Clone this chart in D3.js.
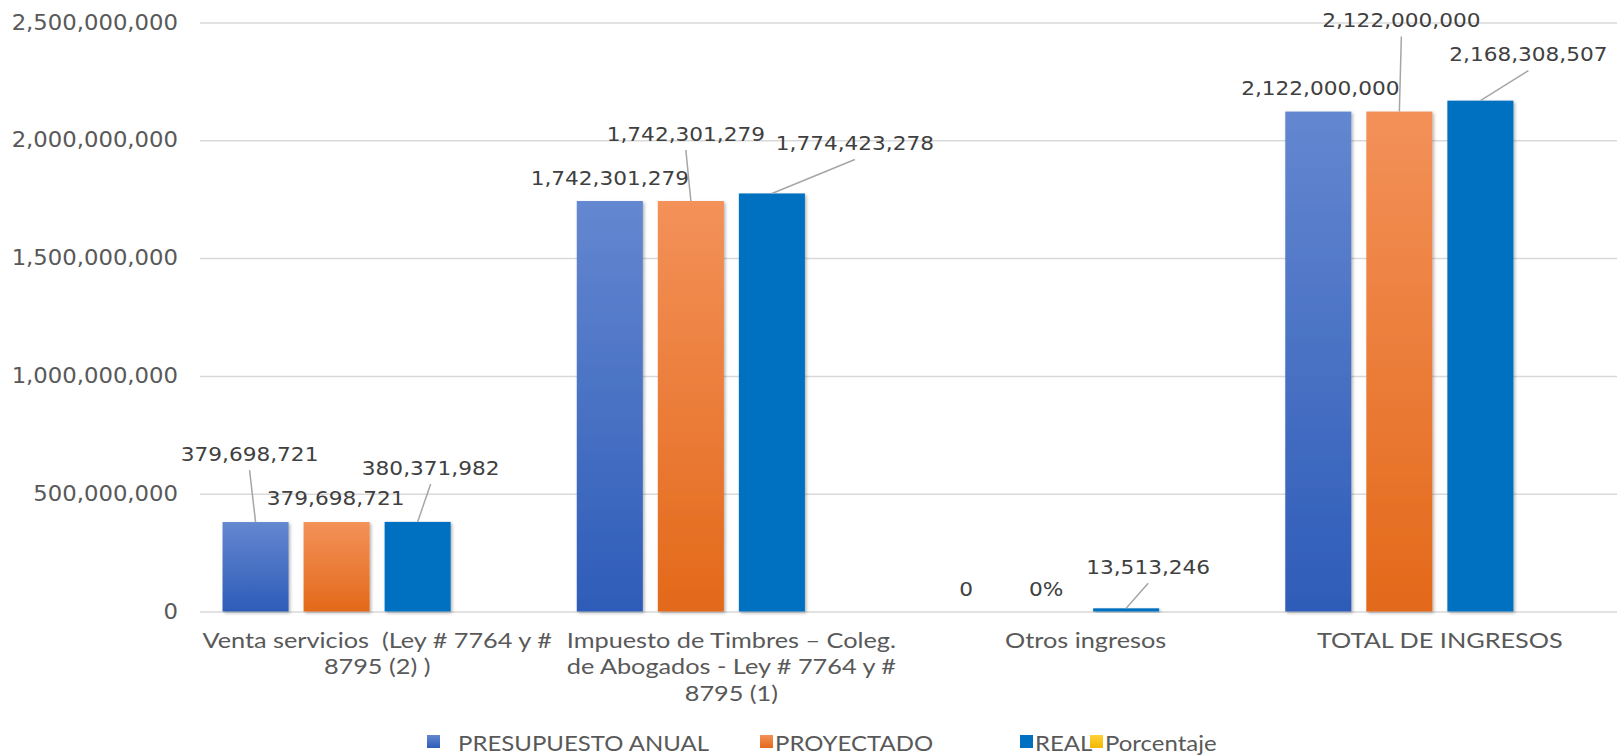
<!DOCTYPE html>
<html>
<head>
<meta charset="utf-8">
<script src="https://cdn.jsdelivr.net/npm/d3@7"></script>
<style>
  html, body { margin: 0; padding: 0; background: #fff; }
  .axis-label { font-family: "DejaVu Sans", Verdana, sans-serif; font-size: 20.5px; fill: #595959; }
  .data-label { font-family: "DejaVu Sans", Verdana, sans-serif; font-size: 19.5px; fill: #404040; }
  .cat-label { font-family: Lato, "Open Sans", sans-serif; font-size: 22px; fill: #595959; white-space: pre; }
  .legend-label { font-family: Lato, "Open Sans", sans-serif; font-size: 22px; fill: #595959; }
</style>
</head>
<body>
<div id="chart"></div>
<script>
// Chart data
const categories = ["Venta servicios", "Impuesto de Timbres", "Otros ingresos", "TOTAL DE INGRESOS"];
const categoryLines = [
  ["Venta servicios  (Ley # 7764 y #", "8795 (2) )"],
  ["Impuesto de Timbres \u2013 Coleg.", "de Abogados - Ley # 7764 y #", "8795 (1)"],
  ["Otros ingresos"],
  ["TOTAL DE INGRESOS"],
];
const seriesNames = ["PRESUPUESTO ANUAL", "PROYECTADO", "REAL", "Porcentaje"];
const presupuesto = [379698721, 1742301279, 0, 2122000000];
const proyectado = [379698721, 1742301279, 0, 2122000000];
const real = [380371982, 1774423278, 13513246, 2168308507];
const porcentaje = [1.0, 1.02, 0, 1.02]; // ratio values, too small to show on this scale
const yTicks = [0, 500000000, 1000000000, 1500000000, 2000000000, 2500000000];

// label placement: [dx, dy, leader line] relative to the top centre of the bar
const labelPos = [
  [[-6, -68, true], [-1, -24, false], [13, -54, true]],
  [[0, -23, false], [-5, -67, true], [83, -50, true]],
  [[2, -22, false], [1, -22, false], [22, -41, true]],
  [[2, -23, false], [2, -91, true], [48, -46, true]],
];
const percentLabels = [[2, 1]]; // cells shown as percent in the source

const colors = [
  ["#6487d0", "#2e5cb8"],
  ["#f39159", "#e3691a"],
  ["#0070c0", "#0070c0"],
  ["#ffd23a", "#f2b700"],
];

const W = 1621, H = 755;
const margin = { top: 22.5, right: 4, bottom: 143.5, left: 200 };
const width = W - margin.left - margin.right;
const height = H - margin.top - margin.bottom;
const SX = 1.11; // source picture is stretched a bit horizontally

const svg = d3.select("#chart").append("svg").attr("width", W).attr("height", H);
const defs = svg.append("defs");

colors.forEach((c, i) => {
  const g = defs.append("linearGradient").attr("id", "grad" + i)
    .attr("x1", 0).attr("y1", 0).attr("x2", 0).attr("y2", 1);
  g.append("stop").attr("offset", "0%").attr("stop-color", c[0]);
  g.append("stop").attr("offset", "100%").attr("stop-color", c[1]);
});

const shadow = defs.append("filter").attr("id", "shadow")
  .attr("x", "-10%").attr("y", "-10%").attr("width", "130%").attr("height", "130%");
shadow.append("feDropShadow").attr("dx", 1.5).attr("dy", 1.5)
  .attr("stdDeviation", 1.5).attr("flood-color", "#000").attr("flood-opacity", 0.3);

const g = svg.append("g").attr("transform", `translate(${margin.left},${margin.top})`);

const series = [presupuesto, proyectado, real, porcentaje];
const rows = categories.map((c, i) => ({ cat: c, i, values: series.map((s) => s[i]) }));

const x0 = d3.scaleBand().domain(categories).range([0, width]);
const x1 = d3.scaleBand().domain(seriesNames).range([0, x0.bandwidth()])
  .paddingInner(0.185).paddingOuter(0.278);
const y = d3.scaleLinear().domain([0, 2500000000]).range([height, 0]);

// Y axis + gridlines
const yAxis = g.append("g")
  .call(d3.axisLeft(y).tickValues(yTicks).tickSize(-width).tickPadding(22).tickFormat(d3.format(",")));
yAxis.select(".domain").remove();
yAxis.selectAll(".tick line").attr("stroke", "#d9d9d9").attr("stroke-width", 1.5);
yAxis.selectAll(".tick text")
  .attr("class", "axis-label").attr("font-size", null).attr("font-family", null)
  .attr("x", -22 / SX)
  .attr("transform", `scale(${SX},1)`);

// Bars
const groups = g.selectAll(".cat").data(rows).join("g")
  .attr("class", "cat")
  .attr("transform", (d) => `translate(${x0(d.cat)},0)`);

groups.selectAll("rect")
  .data((d) => d.values.map((v, si) => ({ v, si })))
  .join("rect")
  .attr("x", (d) => x1(seriesNames[d.si]))
  .attr("y", (d) => y(d.v))
  .attr("width", x1.bandwidth())
  .attr("height", (d) => height - y(d.v))
  .attr("fill", (d) => `url(#grad${d.si})`)
  .attr("filter", (d) => (d.v > 0 ? "url(#shadow)" : null));

// Data labels with leader lines
const fmt = d3.format(",");
const labelLayer = g.append("g");
rows.forEach((r) => {
  [0, 1, 2].forEach((si) => {
    const v = r.values[si];
    const cx = x0(r.cat) + x1(seriesNames[si]) + x1.bandwidth() / 2;
    const top = y(v);
    const [dx, dy, leader] = labelPos[r.i][si];
    const isPct = percentLabels.some((p) => p[0] === r.i && p[1] === si);
    if (leader) {
      labelLayer.append("line")
        .attr("x1", cx + dx).attr("y1", top + dy + 16)
        .attr("x2", cx).attr("y2", top)
        .attr("stroke", "#a6a6a6").attr("stroke-width", 1.5);
    }
    labelLayer.append("text")
      .attr("class", "data-label")
      .attr("transform", `translate(${cx + dx},${top + dy}) scale(${SX},1)`)
      .attr("text-anchor", "middle")
      .attr("dominant-baseline", "central")
      .text(isPct ? d3.format(".0%")(v) : fmt(v));
  });
});

// Category labels
const catAxis = g.append("g").attr("transform", `translate(0,${height})`);
rows.forEach((r) => {
  const t = catAxis.append("text")
    .attr("class", "cat-label")
    .attr("text-anchor", "middle")
    .attr("transform", `translate(${x0(r.cat) + x0.bandwidth() / 2},36) scale(1.15,1)`);
  categoryLines[r.i].forEach((line, li) => {
    t.append("tspan")
      .attr("x", 0)
      .attr("dy", li === 0 ? 0 : 27)
      .text(line);
  });
});

// Legend
const legendX = [427, 760, 1020, 1090];
const legendTextX = [458, 775, 1035, 1105];
const legend = svg.append("g").attr("transform", `translate(0,${H - 13})`);
seriesNames.forEach((name, i) => {
  legend.append("rect").attr("x", legendX[i]).attr("y", -7).attr("width", 13).attr("height", 13)
    .attr("fill", `url(#grad${i})`);
  legend.append("text").attr("class", "legend-label")
    .attr("transform", `translate(${legendTextX[i]},0) scale(1.09,1)`)
    .attr("dominant-baseline", "central")
    .text(name);
});
</script>
</body>
</html>
